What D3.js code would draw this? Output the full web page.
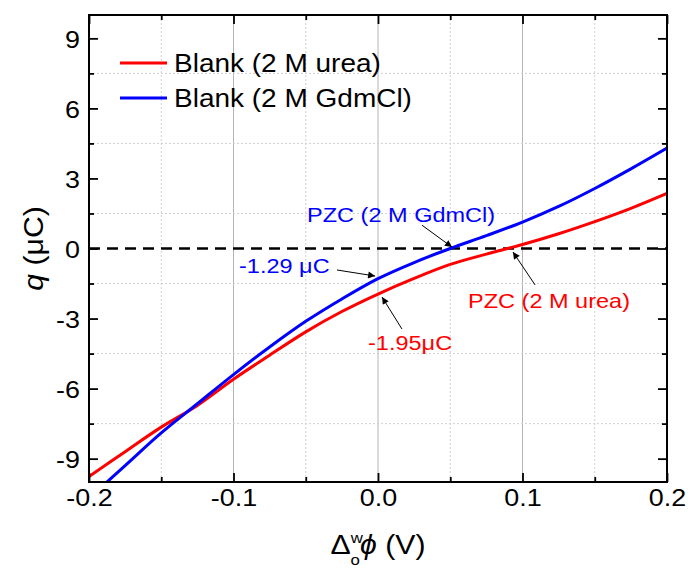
<!DOCTYPE html>
<html>
<head>
<meta charset="utf-8">
<script src="https://cdn.jsdelivr.net/npm/d3@7"></script>
<style>
  body { margin: 0; background: #fff; }
  text { font-family: Arial, "Liberation Sans", sans-serif; }
</style>
</head>
<body>
<div id="chart"></div>
<script>
// potential (V) and charge (uC)
const potential = [-0.2, -0.175, -0.15, -0.125, -0.1, -0.075, -0.05, -0.025, 0, 0.025, 0.05, 0.075, 0.1, 0.125, 0.15, 0.175, 0.2];
const qUrea = [-9.77, -8.7, -7.65, -6.72, -5.6, -4.57, -3.57, -2.7, -1.95, -1.28, -0.68, -0.24, 0.17, 0.63, 1.15, 1.72, 2.36];
const qGdmCl = [-10.7, -9.3, -7.9, -6.65, -5.4, -4.22, -3.12, -2.16, -1.29, -0.6, 0.0, 0.55, 1.13, 1.8, 2.57, 3.41, 4.3];

const xMajorTicks = [-0.2, -0.1, 0.0, 0.1, 0.2];
const xMinorTicks = [-0.15, -0.05, 0.05, 0.15];
const yMajorTicks = [-9, -6, -3, 0, 3, 6, 9];
const yMinorTicks = [-7.5, -4.5, -1.5, 1.5, 4.5, 7.5];

const seriesNames = ["Blank (2 M urea)", "Blank (2 M GdmCl)"];
const seriesColors = ["#ff0000", "#0000ff"];

const W = 691, H = 569;
const margin = { top: 15, right: 24, bottom: 87, left: 89 };
const pw = W - margin.left - margin.right, ph = H - margin.top - margin.bottom;
const SX = 1.12; // text in the figure is slightly stretched horizontally

const svg = d3.select("#chart").append("svg").attr("width", W).attr("height", H);
const g = svg.append("g").attr("transform", `translate(${margin.left},${margin.top})`);

const x = d3.scaleLinear().domain([-0.2, 0.2]).range([0, pw]);
const y = d3.scaleLinear().domain([-10, 10]).range([ph, 0]);

svg.append("defs").append("clipPath").attr("id", "clip")
  .append("rect").attr("width", pw).attr("height", ph);
svg.select("defs").append("marker")
  .attr("id", "arr").attr("viewBox", "0 0 10 10").attr("refX", 10).attr("refY", 5)
  .attr("markerWidth", 9).attr("markerHeight", 7).attr("markerUnits", "userSpaceOnUse")
  .attr("orient", "auto")
  .append("path").attr("d", "M0,0L10,5L0,10z").attr("fill", "#000");

// grid
g.selectAll(".gmaj").data(xMajorTicks.slice(1, -1)).enter().append("line")
  .attr("x1", d => x(d)).attr("x2", d => x(d)).attr("y1", 0).attr("y2", ph)
  .attr("stroke", "#b4b4b4").attr("stroke-width", 1);
g.selectAll(".gminx").data(xMinorTicks).enter().append("line")
  .attr("x1", d => x(d)).attr("x2", d => x(d)).attr("y1", 0).attr("y2", ph)
  .attr("stroke", "#d0d0d0").attr("stroke-width", 1).attr("stroke-dasharray", "2,2");
g.selectAll(".gminy").data(yMinorTicks).enter().append("line")
  .attr("x1", 0).attr("x2", pw).attr("y1", d => y(d)).attr("y2", d => y(d))
  .attr("stroke", "#d0d0d0").attr("stroke-width", 1).attr("stroke-dasharray", "2,2");

// zero line
g.append("line").attr("x1", 0).attr("x2", pw).attr("y1", y(0)).attr("y2", y(0))
  .attr("stroke", "#000").attr("stroke-width", 2.5).attr("stroke-dasharray", "11,7");

// curves
const line = d3.line().curve(d3.curveCatmullRom).x((d, i) => x(potential[i])).y(d => y(d));
const curves = g.append("g").attr("clip-path", "url(#clip)");
[qUrea, qGdmCl].forEach((s, k) => {
  curves.append("path").attr("d", line(s)).attr("fill", "none")
    .attr("stroke", seriesColors[k]).attr("stroke-width", 3);
});

// axes
function styleAxis(sel) {
  sel.select(".domain").remove();
  sel.selectAll(".tick line").attr("stroke", "#000").attr("stroke-width", 1.8);
}
const xFmt = d => d3.format(".1f")(d).replace("\u2212", "-");
const yFmt = d => String(d);
const bx = g.append("g").attr("transform", `translate(0,${ph})`)
  .call(d3.axisBottom(x).tickValues(xMajorTicks).tickSizeInner(-9).tickSizeOuter(0).tickPadding(24)
    .tickFormat(xFmt));
bx.call(styleAxis);
bx.selectAll("text").attr("font-size", 24).attr("fill", "#000").attr("dy", 0)
  .attr("transform", `scale(${SX},1)`);
g.append("g").attr("transform", `translate(0,${ph})`)
  .call(d3.axisBottom(x).tickValues(xMinorTicks).tickSize(-5).tickFormat("")).call(styleAxis);
g.append("g").call(d3.axisTop(x).tickValues(xMajorTicks).tickSize(-9).tickFormat("")).call(styleAxis);
g.append("g").call(d3.axisTop(x).tickValues(xMinorTicks).tickSize(-5).tickFormat("")).call(styleAxis);

const ly = g.append("g")
  .call(d3.axisLeft(y).tickValues(yMajorTicks).tickSizeInner(-9).tickSizeOuter(0).tickPadding(10)
    .tickFormat(yFmt));
ly.call(styleAxis);
ly.selectAll("text").attr("font-size", 24).attr("fill", "#000")
  .attr("x", -9 / SX).attr("dy", "0.36em").attr("transform", `scale(${SX},1)`);
g.append("g").call(d3.axisLeft(y).tickValues(yMinorTicks).tickSize(-5).tickFormat("")).call(styleAxis);
g.append("g").attr("transform", `translate(${pw},0)`)
  .call(d3.axisRight(y).tickValues(yMajorTicks).tickSize(-9).tickFormat("")).call(styleAxis);
g.append("g").attr("transform", `translate(${pw},0)`)
  .call(d3.axisRight(y).tickValues(yMinorTicks).tickSize(-5).tickFormat("")).call(styleAxis);

// frame
g.append("rect").attr("width", pw).attr("height", ph).attr("fill", "none")
  .attr("stroke", "#000").attr("stroke-width", 2);

// text helper
function label(parent, px, py, size, color, anchor, rot) {
  return parent.append("text")
    .attr("transform", `translate(${px},${py})${rot ? ` rotate(${rot})` : ""} scale(${SX},1)`)
    .attr("font-size", size).attr("fill", color).attr("text-anchor", anchor || "start");
}

// axis titles
const xt = label(svg, margin.left + x(0), 554, 27, "#000", "middle");
xt.append("tspan").text("Δ");
xt.append("tspan").attr("font-size", 15).attr("dy", -11).text("w");
xt.append("tspan").attr("font-size", 15).attr("dx", -11).attr("dy", 22).text("o");
xt.append("tspan").attr("font-style", "italic").attr("dy", -11).text("ϕ");
xt.append("tspan").text(" (V)");

const yt = label(svg, 43, margin.top + y(0), 27, "#000", "middle", -90);
yt.append("tspan").attr("font-style", "italic").text("q");
yt.append("tspan").text(" (μC)");

// legend
seriesNames.forEach((n, k) => {
  const ly0 = 48 + k * 35;
  g.append("line").attr("x1", 31).attr("x2", 78).attr("y1", ly0).attr("y2", ly0)
    .attr("stroke", seriesColors[k]).attr("stroke-width", 3);
  label(g, 85, ly0 + 8.5, 25, "#000").text(n);
});

// annotations (data coordinates)
const notes = [
  { t: "PZC (2 M GdmCl)", c: seriesColors[1], tx: -0.0491, ty: 1.135, ax: 0.0304, ay: 1.0, bx: 0.0512, by: 0.06 },
  { t: "-1.29 μC", c: seriesColors[1], tx: -0.0962, ty: -1.05, ax: -0.0284, ay: -0.92, bx: -0.002, by: -1.18 },
  { t: "-1.95μC", c: seriesColors[0], tx: -0.0069, ty: -4.35, ax: 0.0166, ay: -3.45, bx: 0.0028, by: -2.08 },
  { t: "PZC (2 M urea)", c: seriesColors[0], tx: 0.0623, ty: -2.55, ax: 0.1087, ay: -1.56, bx: 0.0934, by: -0.15 }
];
notes.forEach(n => {
  label(g, x(n.tx), y(n.ty), 21, n.c).text(n.t);
  g.append("line").attr("x1", x(n.ax)).attr("y1", y(n.ay)).attr("x2", x(n.bx)).attr("y2", y(n.by))
    .attr("stroke", "#000").attr("stroke-width", 1).attr("marker-end", "url(#arr)");
});
</script>
</body>
</html>
